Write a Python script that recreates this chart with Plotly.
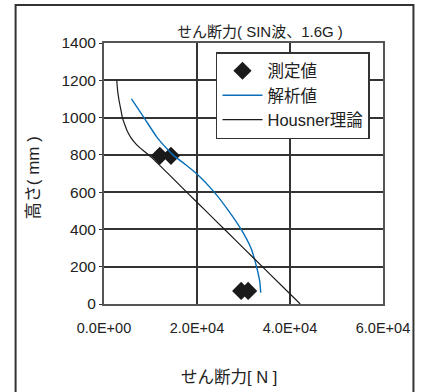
import plotly.graph_objects as go

# ---- data ----
measured_x = [12000, 14400, 29500, 31000]
measured_y = [795, 795, 70, 70]

analysis_x = [5900, 8600, 11400, 13900, 14800, 17500, 20000, 23700, 26800, 29500, 31600, 32800, 33500, 33700]
analysis_y = [1100, 1000, 894, 823, 800, 748, 697, 600, 500, 400, 300, 200, 120, 60]

housner_x = [2750, 2850, 3000, 3250, 3600, 3950, 4500, 5100, 5900, 6800, 7800, 8900, 10500,
             14000, 18000, 22000, 26000, 30000, 34000, 38000, 42200]
housner_y = [1200, 1165, 1130, 1090, 1045, 1000, 960, 922, 888, 860, 836, 814, 780,
             694, 595, 497, 398, 300, 202, 103, 0]

x_ticks = [0, 20000, 40000, 60000]
x_tick_labels = ["0.0E+00", "2.0E+04", "4.0E+04", "6.0E+04"]
y_ticks = [0, 200, 400, 600, 800, 1000, 1200, 1400]

names = ["測定値", "解析値", "Housner理論"]
title_text = "せん断力( SIN波、1.6G )"
x_title = "せん断力[ N ]"
y_title = "高さ( mm )"

FONT = "Liberation Sans, Arial, Noto Sans CJK JP, sans-serif"
W, H = 422, 392
L, R, T, B = 104, 388, 43, 304  # plot area in px


def px(xp):
    return (xp - L) / (R - L)


def py(yp):
    return (B - yp) / (B - T)


fig = go.Figure()
fig.add_trace(go.Scatter(
    x=measured_x, y=measured_y, mode="markers", name=names[0],
    marker=dict(symbol="diamond", size=14, color="#1a1a1a", line=dict(width=0)),
))
fig.add_trace(go.Scatter(
    x=analysis_x, y=analysis_y, mode="lines", name=names[1],
    line=dict(color="#0a6fb8", width=1.4, shape="spline", smoothing=0.6),
))
fig.add_trace(go.Scatter(
    x=housner_x, y=housner_y, mode="lines", name=names[2],
    line=dict(color="#1a1a1a", width=1.2, shape="spline", smoothing=0.4),
))

fig.update_layout(
    width=W, height=H,
    margin=dict(l=L, r=W - R, t=T, b=H - B),
    paper_bgcolor="white", plot_bgcolor="white",
    font=dict(family=FONT, size=15, color="#222"),
    showlegend=True,
    legend=dict(
        x=px(218), y=py(52), xanchor="left", yanchor="top",
        bgcolor="white", bordercolor="#333", borderwidth=1.5,
        font=dict(size=16.5, color="#222"),
        itemwidth=40, tracegroupgap=0,
    ),
    xaxis=dict(
        range=[0, 60000], tickvals=x_ticks, ticktext=x_tick_labels,
        showgrid=True, gridcolor="#333", gridwidth=1.5,
        showline=True, linecolor="#555", linewidth=2, mirror=True,
        ticks="", zeroline=False, ticklabelstandoff=10,
        tickfont=dict(size=14.5, color="#222"),
    ),
    yaxis=dict(
        range=[0, 1400], tickvals=y_ticks,
        showgrid=True, gridcolor="#333", gridwidth=1.5,
        showline=True, linecolor="#555", linewidth=2, mirror=True,
        ticks="outside", ticklen=3, tickcolor="#333", zeroline=False,
        tickfont=dict(size=15.5, color="#222"),
    ),
    shapes=[dict(
        type="rect", xref="paper", yref="paper",
        x0=px(14), x1=px(419), y0=py(410), y1=py(5),
        line=dict(color="#333", width=2), fillcolor="rgba(0,0,0,0)", layer="below",
    )],
    annotations=[
        dict(text=title_text, xref="paper", yref="paper", x=px(263), y=py(31.5),
             xanchor="center", yanchor="middle", showarrow=False,
             font=dict(size=15, color="#222")),
        dict(text=x_title, xref="paper", yref="paper", x=px(231), y=py(376.5),
             xanchor="center", yanchor="middle", showarrow=False,
             font=dict(size=16.5, color="#222")),
        dict(text=y_title, xref="paper", yref="paper", x=px(33), y=py(178),
             xanchor="center", yanchor="middle", showarrow=False, textangle=-90,
             font=dict(size=17, color="#222")),
    ],
)

fig.write_html(
    "out.html",
    config={"displayModeBar": False},
    post_script="document.body.style.margin='0';document.body.style.overflow='hidden';",
)
